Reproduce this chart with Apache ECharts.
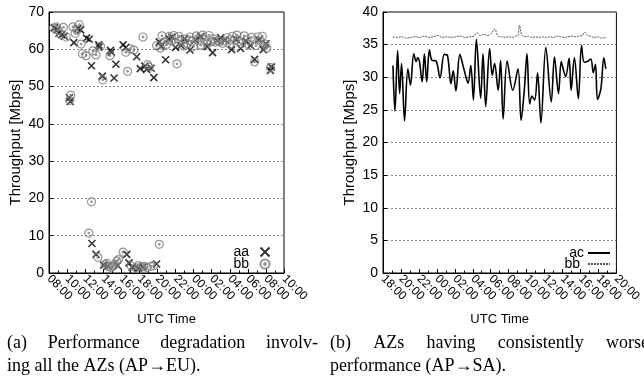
<!DOCTYPE html>
<html>
<head>
<meta charset="utf-8">
<script src="https://cdn.jsdelivr.net/npm/echarts@6/dist/echarts.min.js"></script>
<style>
  html, body { margin: 0; padding: 0; background: #fff; }
  #chart { width: 644px; height: 385px; }
</style>
</head>
<body>
<div id="chart"></div>
<script>
// Hours are counted from the first tick of each time axis.
const leftTickLabels = ['08:00','10:00','12:00','14:00','16:00','18:00','20:00','22:00','00:00','02:00','04:00','06:00','08:00','10:00'];
const rightTickLabels = ['18:00','20:00','22:00','00:00','02:00','04:00','06:00','08:00','10:00','12:00','14:00','16:00','18:00','20:00'];

// (a) AP -> EU, two AZ pairs, [hour, Mbps]
const aaPoints = [
  [0.6,65.8],[0.9,65.2],[1.1,64.3],[1.4,63.9],[1.7,63.5],[2.25,47.0],[2.35,46.0],[2.75,61.8],
  [3.2,65.6],[3.5,65.2],[4.15,63.0],[4.45,62.7],[4.7,55.6],[4.75,7.9],[5.2,5.0],[5.5,61.2],
  [5.55,60.6],[5.9,52.8],[6.05,2.1],[6.5,1.8],[6.8,59.7],[6.9,59.2],[7.2,52.3],[7.4,56.0],
  [7.6,2.0],[8.2,61.2],[8.5,60.5],[8.6,5.0],[8.85,2.7],[9.2,1.5],[9.7,58.0],[9.9,1.2],
  [10.1,54.8],[10.4,1.6],[10.6,55.5],[10.8,54.6],[11.3,54.9],[11.6,52.4],[11.9,2.4],[12.2,62.0],
  [12.4,60.8],[12.9,57.2],[13.3,62.8],[13.6,63.3],[14.0,60.5],[14.6,61.0],[15.0,62.8],[15.6,59.8],
  [16.2,62.5],[16.8,63.4],[17.5,60.7],[18.1,59.1],[18.6,62.3],[19.0,63.1],[19.5,62.5],[20.2,59.9],
  [20.7,62.6],[21.2,60.2],[21.8,62.2],[22.3,61.0],[22.75,57.3],[23.2,62.5],[23.7,59.9],[24.0,61.5],
  [24.5,54.3],[24.6,55.3]
];
const bbPoints = [
  [0.5,65.7],[0.8,66.0],[1.0,65.2],[1.3,64.0],[1.6,65.9],[1.9,63.3],[2.3,46.3],[2.4,47.7],
  [2.65,66.0],[2.9,64.3],[3.1,65.1],[3.35,66.6],[3.55,61.4],[3.7,58.8],[4.1,58.3],[4.4,10.7],
  [4.7,19.1],[4.85,59.6],[5.2,58.5],[5.4,4.2],[5.7,60.8],[5.95,51.8],[6.2,2.3],[6.4,2.6],
  [6.6,1.7],[6.75,58.3],[6.9,1.5],[7.1,1.9],[7.3,2.3],[7.5,3.2],[7.7,3.6],[8.2,5.6],
  [8.5,59.2],[8.7,54.1],[9.0,60.1],[9.1,1.9],[9.4,59.8],[9.6,1.4],[9.9,2.0],[10.2,1.6],
  [10.4,63.3],[10.5,1.8],[10.8,1.5],[10.9,55.9],[11.1,55.2],[11.3,1.8],[11.6,2.0],[11.9,61.0],
  [12.2,7.7],[12.3,60.3],[12.5,63.6],[12.8,62.0],[13.0,61.3],[13.3,63.5],[13.5,62.3],[13.8,63.7],
  [14.0,61.8],[14.15,56.1],[14.4,63.5],[14.6,62.2],[14.9,60.9],[15.1,62.7],[15.3,61.5],[15.6,63.3],
  [15.8,62.1],[16.0,60.8],[16.3,63.6],[16.5,62.4],[16.8,61.1],[17.0,63.8],[17.2,62.6],[17.5,61.4],
  [17.7,63.7],[17.9,62.0],[18.2,62.8],[18.4,61.9],[18.7,62.3],[18.9,62.0],[19.2,61.6],[19.5,62.2],
  [19.7,63.1],[20.0,61.3],[20.3,63.5],[20.5,62.4],[20.8,63.8],[21.0,62.1],[21.3,61.5],[21.6,63.6],
  [21.9,62.5],[22.1,61.2],[22.4,63.2],[22.75,56.6],[22.9,61.0],[23.1,63.3],[23.4,62.2],[23.6,63.5],
  [23.9,61.4],[24.1,60.3],[24.5,55.1]
];

// (b) AP -> SA, [hour, Mbps]
const acLine = [
  [1.11,31.8],[1.33,24.8],[1.63,34.1],[1.85,27.5],[2.07,32.1],[2.40,23.3],[2.77,31.3],[3.06,28.8],
  [3.43,33.6],[3.69,32.4],[3.87,33.0],[4.06,32.4],[4.36,29.3],[4.61,33.6],[4.87,29.3],[5.17,34.2],
  [5.46,32.6],[5.91,32.5],[6.35,29.9],[6.83,33.5],[7.19,33.3],[7.57,29.0],[7.82,31.0],[8.12,27.9],
  [8.56,33.5],[8.93,31.7],[9.23,30.1],[9.48,29.1],[9.78,31.8],[10.07,26.5],[10.40,35.8],[10.88,26.8],
  [11.14,33.6],[11.44,25.5],[11.88,34.4],[12.17,30.3],[12.43,32.1],[12.83,28.0],[13.10,32.6],[13.38,23.6],
  [13.83,32.5],[14.46,28.0],[15.04,31.3],[15.38,23.4],[15.75,28.2],[16.04,33.6],[16.34,25.9],[16.59,27.1],
  [16.89,26.5],[17.22,30.7],[17.59,23.0],[18.14,34.6],[18.74,26.2],[19.10,33.1],[19.55,27.5],[19.85,32.4],
  [20.10,31.1],[20.35,30.1],[20.73,32.9],[20.95,28.0],[21.32,33.0],[21.76,26.7],[22.12,34.9],[22.42,32.3],
  [22.86,32.5],[23.16,32.8],[23.42,30.7],[23.67,32.0],[23.89,26.6],[24.27,28.2],[24.60,33.0],[24.82,31.3]
];
const bbLine = [
  [1.1,36.2],[1.6,36.1],[2.1,36.2],[2.6,36.0],[3.1,36.1],[3.6,36.2],[4.1,36.1],[4.6,36.3],
  [5.1,36.1],[5.6,36.2],[6.1,36.4],[6.6,36.1],[7.1,36.2],[7.6,36.1],[8.1,36.2],[8.6,36.3],
  [9.1,36.1],[9.6,36.2],[10.1,36.3],[10.5,36.8],[10.8,36.4],[11.2,36.6],[11.6,36.4],[12.0,36.6],
  [12.45,37.4],[12.8,36.3],[13.2,36.2],[13.6,36.1],[14.0,36.2],[14.4,36.1],[14.8,36.3],[15.05,36.4],
  [15.2,38.0],[15.45,36.5],[15.8,36.2],[16.2,36.3],[16.6,36.1],[17.0,36.2],[17.4,36.1],[17.8,36.2],
  [18.2,36.1],[18.6,36.2],[19.0,36.1],[19.4,36.3],[19.8,36.2],[20.2,36.1],[20.6,36.2],[21.0,36.3],
  [21.4,36.2],[21.8,36.3],[22.2,36.4],[22.5,36.9],[22.8,36.4],[23.1,36.3],[23.5,36.1],[23.9,36.2],
  [24.3,36.0],[24.8,36.1]
];

// Sub-figure captions: each line with the span it is justified across (null = left-aligned only)
const captionLines = [
  { words: ['(a)', 'Performance', 'degradation', 'involv-'], x0: 7, x1: 318, y: 334 },
  { words: ['ing', 'all', 'the', 'AZs', '(AP\u2192EU).'], x0: 7, x1: null, y: 357 },
  { words: ['(b)', 'AZs', 'having', 'consistently', 'worse'], x0: 330, x1: 649, y: 334 },
  { words: ['performance', '(AP\u2192SA).'], x0: 330, x1: null, y: 357 }
];

const FONT = '"Liberation Sans", Arial, sans-serif';
const SERIF = '"Liberation Serif", "Times New Roman", serif';
const CAPTION_SIZE = 18;
const crossSymbol = 'path://M0,0L10,10M10,0L0,10';
const ringDotSymbol = 'path://M10,5A5,5,0,1,1,0,5A5,5,0,1,1,10,5ZM6,5A1,1,0,1,1,4,5A1,1,0,1,1,6,5Z';

// Lay out justified caption lines word by word.
function captionGraphics() {
  const ctx = document.createElement('canvas').getContext('2d');
  ctx.font = CAPTION_SIZE + 'px ' + SERIF;
  const space = ctx.measureText(' ').width;
  const out = [];
  captionLines.forEach(line => {
    const widths = line.words.map(w => ctx.measureText(w).width);
    const total = widths.reduce((a, b) => a + b, 0);
    let gap = space;
    if (line.x1 !== null && line.words.length > 1) {
      gap = (line.x1 - line.x0 - total) / (line.words.length - 1);
    }
    let x = line.x0;
    line.words.forEach((w, i) => {
      out.push({ type: 'text', x, y: line.y, style: { text: w, fontFamily: SERIF, fontSize: CAPTION_SIZE, fill: '#000' } });
      x += widths[i] + gap;
    });
  });
  return out;
}

function timeAxis(gridIndex, labels) {
  return {
    type: 'value', gridIndex, min: 0, max: 26, interval: 2,
    name: 'UTC Time', nameLocation: 'middle', nameGap: 40,
    nameTextStyle: { fontFamily: FONT, fontSize: 13, color: '#000' },
    axisLine: { show: true, lineStyle: { color: '#000', width: 1 } },
    axisTick: { show: true, inside: true, length: 4, lineStyle: { color: '#000' } },
    minorTick: { show: true, splitNumber: 2, length: 2.5, lineStyle: { color: '#000' } },
    splitLine: { show: false },
    axisLabel: {
      rotate: -45, margin: 4, fontFamily: FONT, fontSize: 12, color: '#000',
      showMinLabel: true, showMaxLabel: true, hideOverlap: false,
      formatter: v => labels[Math.round(v / 2)] || ''
    }
  };
}
function valueAxis(gridIndex, max, interval) {
  return {
    type: 'value', gridIndex, min: 0, max, interval,
    name: 'Throughput [Mbps]', nameLocation: 'middle', nameGap: 26,
    nameTextStyle: { fontFamily: FONT, fontSize: 15, color: '#000' },
    axisLine: { show: true, lineStyle: { color: '#000', width: 1 } },
    axisTick: { show: true, inside: true, length: 4, lineStyle: { color: '#000' } },
    splitLine: { show: true, lineStyle: { color: '#8a8a8a', type: [2, 2], width: 1 } },
    axisLabel: { margin: 5, fontFamily: FONT, fontSize: 14, color: '#000' }
  };
}
function legendAt(name, right, top, itemWidth, lineOnly) {
  const lg = {
    data: [name], right, top, align: 'right', orient: 'vertical',
    itemWidth, itemHeight: 9, itemGap: 0, padding: 0, selectedMode: false,
    textStyle: { fontFamily: FONT, fontSize: 14, color: '#000', padding: [0, -1, 0, 0] }
  };
  if (lineOnly) lg.itemStyle = { opacity: 0, color: 'rgba(0,0,0,0)', borderWidth: 0 };
  return lg;
}

const chart = echarts.init(document.getElementById('chart'), null, { renderer: 'canvas' });
chart.setOption({
  animation: false,
  backgroundColor: '#fff',
  grid: [
    { left: 49, top: 12, width: 235, height: 261, show: true, borderColor: '#000', borderWidth: 1, backgroundColor: 'transparent' },
    { left: 383, top: 12, width: 235, height: 261, show: true, borderColor: '#000', borderWidth: 1, backgroundColor: 'transparent' }
  ],
  xAxis: [timeAxis(0, leftTickLabels), timeAxis(1, rightTickLabels)],
  yAxis: [valueAxis(0, 70, 10), valueAxis(1, 40, 5)],
  legend: [
    legendAt('aa', 644 - 272, 245, 24, false),
    legendAt('bb', 644 - 272, 257, 24, false),
    legendAt('ac', 644 - 611, 246, 22, true),
    legendAt('bb ', 644 - 611, 257, 22, true)
  ],
  series: [
    {
      name: 'aa', type: 'scatter', xAxisIndex: 0, yAxisIndex: 0, data: aaPoints,
      symbol: crossSymbol, symbolSize: 7,
      itemStyle: { color: 'none', borderColor: '#000', borderWidth: 1.6 }
    },
    {
      name: 'bb', type: 'scatter', xAxisIndex: 0, yAxisIndex: 0, data: bbPoints,
      symbol: ringDotSymbol, symbolSize: 8,
      itemStyle: { color: 'none', borderColor: '#7a7a7a', borderWidth: 1.2 }
    },
    {
      name: 'ac', type: 'line', xAxisIndex: 1, yAxisIndex: 1, data: acLine,
      smooth: 0.35, showSymbol: false, symbol: 'none',
      lineStyle: { color: '#000', width: 1.6 }, itemStyle: { color: '#000' }
    },
    {
      name: 'bb ', type: 'line', xAxisIndex: 1, yAxisIndex: 1, data: bbLine,
      smooth: 0.3, showSymbol: false, symbol: 'none',
      lineStyle: { color: '#555', width: 1, type: [2, 1] }, itemStyle: { color: '#555' }
    }
  ],
  graphic: captionGraphics()
});
</script>
</body>
</html>
